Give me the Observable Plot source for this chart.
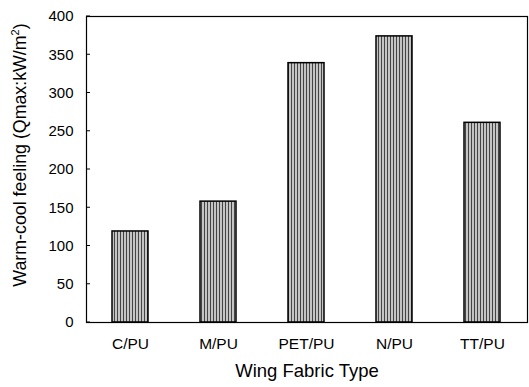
<!DOCTYPE html>
<html>
<head>
<meta charset="utf-8">
<script src="https://cdn.jsdelivr.net/npm/d3@7"></script>
<script src="https://cdn.jsdelivr.net/npm/@observablehq/plot@0.6"></script>
<style>
html,body{margin:0;padding:0;background:#fff;}
#chart svg{font-family:Arial,"Liberation Sans",sans-serif;}
</style>
</head>
<body>
<div id="chart"></div>
<script>
const categories = ["C/PU", "M/PU", "PET/PU", "N/PU", "TT/PU"];
const values = [119, 158, 339, 374, 261];
const yTicks = [0, 50, 100, 150, 200, 250, 300, 350, 400];

const data = categories.map((c, i) => ({cat: c, v: values[i]}));

const chart = Plot.plot({
  width: 529,
  height: 387,
  marginLeft: 86,
  marginRight: 2,
  marginTop: 16,
  marginBottom: 65,
  style: {fontFamily: "Arial, 'Liberation Sans', sans-serif", color: "#000", background: "#fff"},
  x: {domain: categories, paddingInner: 0.59, paddingOuter: 0.295, label: null},
  y: {domain: [0, 400], label: null},
  marks: [
    Plot.barY(data, {x: "cat", y: "v", fill: "url(#stripes)", stroke: "#000", strokeWidth: 1.5}),
    Plot.frame({stroke: "#000", strokeWidth: 1.2}),
    Plot.axisY({ticks: yTicks, tickSize: 0, tickPadding: 13, fontSize: 15, label: null}),
    Plot.axisX({tickSize: 0, tickPadding: 15, fontSize: 15.5, label: null}),
    Plot.text(["Wing Fabric Type"], {frameAnchor: "bottom", dy: 54, fontSize: 18.5}),
  ]
});

// stripe pattern
const svg = d3.select(chart);
const defs = svg.insert("defs", ":first-child");
const pat = defs.append("pattern").attr("id", "stripes").attr("patternUnits", "userSpaceOnUse")
  .attr("width", 3).attr("height", 4);
pat.append("rect").attr("width", 3).attr("height", 4).attr("fill", "#c4c4c4");
pat.append("rect").attr("x", 0).attr("width", 1).attr("height", 4).attr("fill", "#444");

// y-axis label (rotated)
svg.append("text")
  .attr("transform", "translate(26,155) rotate(-90)")
  .attr("text-anchor", "middle")
  .attr("font-size", 17.8)
  .attr("fill", "#000")
  .html('Warm-cool feeling (Qmax:kW/m<tspan dy="-7" font-size="11">2</tspan><tspan dy="7">)</tspan>');

// inward ticks on y-axis
const y = chart.scale("y");
svg.append("g").selectAll("line").data(yTicks).join("line")
  .attr("x1", 86).attr("x2", 90)
  .attr("y1", d => y.apply(d)).attr("y2", d => y.apply(d))
  .attr("stroke", "#000").attr("stroke-width", 1);

document.getElementById("chart").appendChild(chart);
</script>
</body>
</html>
